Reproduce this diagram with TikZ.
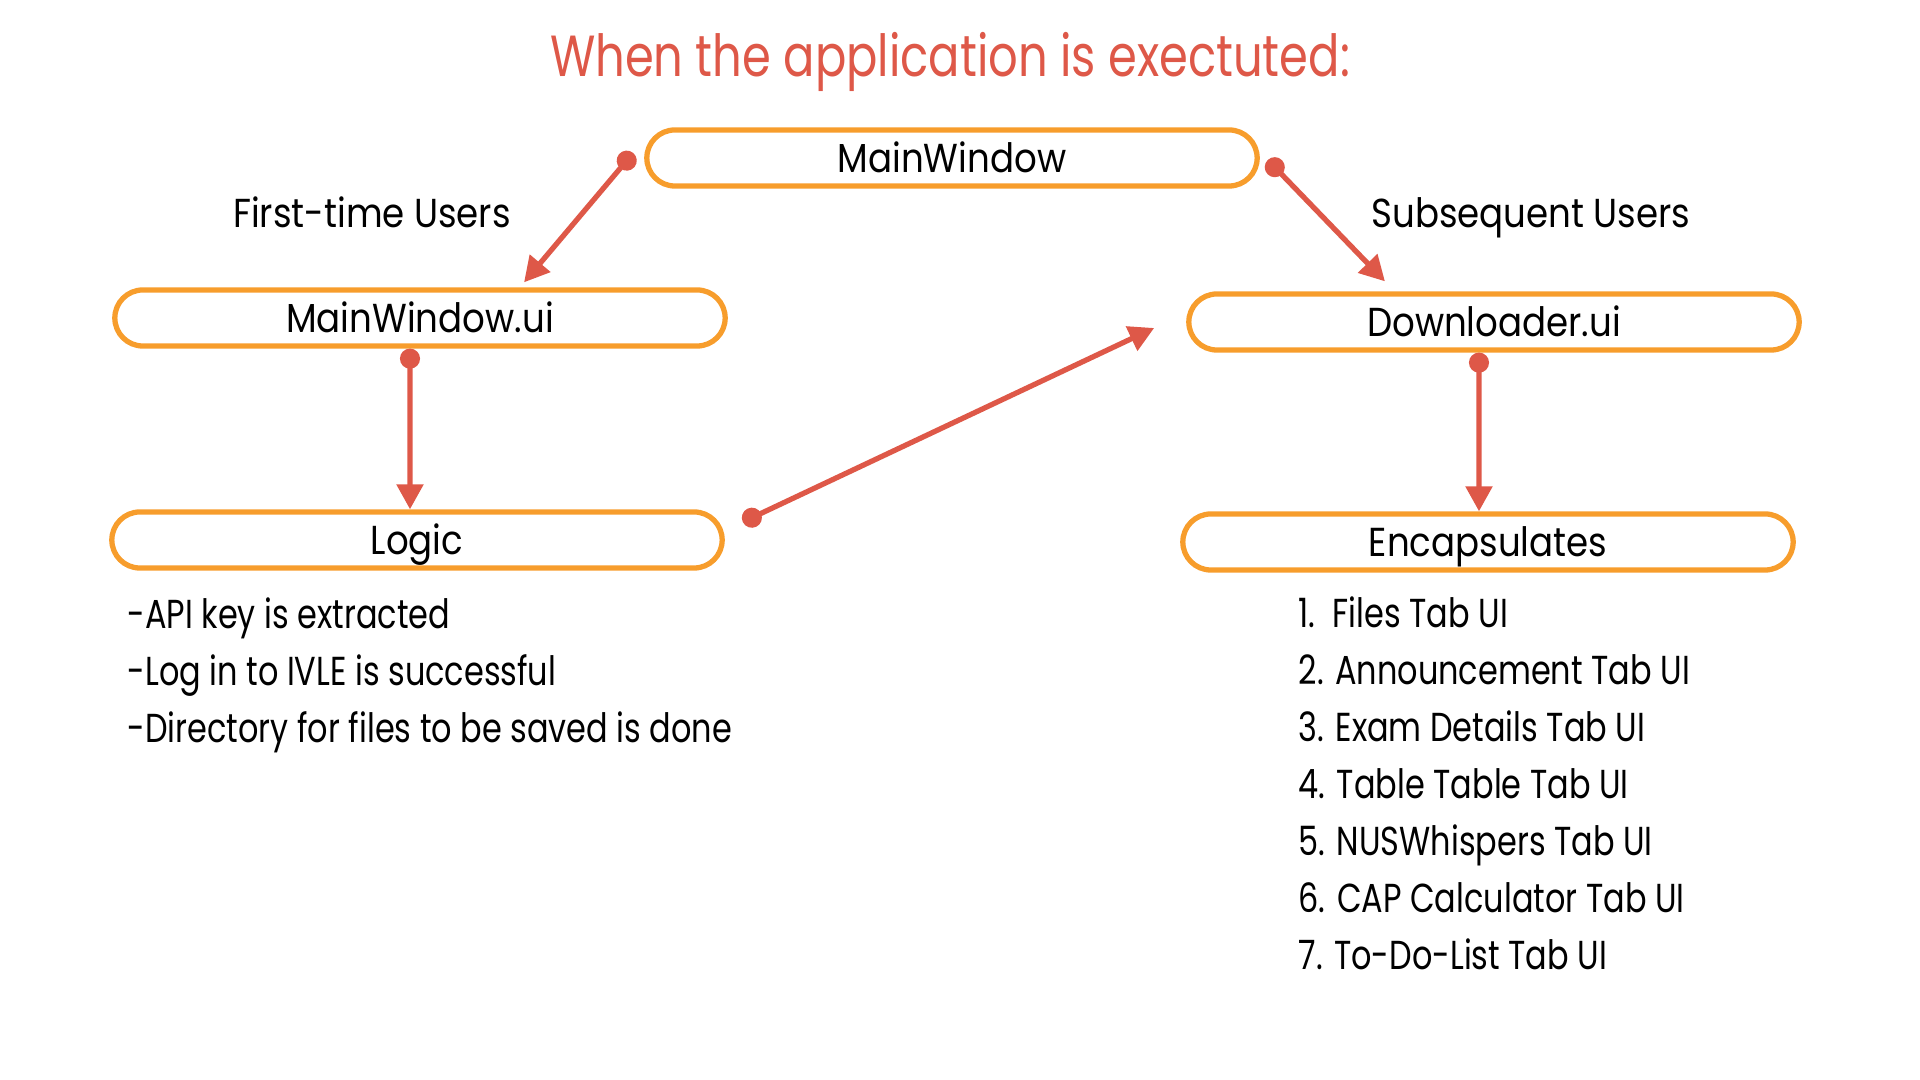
\documentclass[tikz,border=0pt]{standalone}
\usepackage{fontspec}
\setmainfont{Poppins}[FakeStretch=0.88]
\newfontfamily\listfont[FakeStretch=0.79]{Poppins}
\newfontfamily\headfont[FakeStretch=0.8]{Poppins}
\usetikzlibrary{arrows.meta,positioning}
\definecolor{boxline}{RGB}{247,157,44}
\definecolor{flow}{RGB}{222,88,72}

\begin{document}
\begin{tikzpicture}[x=0.01cm,y=-0.01cm,
  stage/.style={draw=boxline,line width=1.5pt,rounded corners=0.28cm,
    minimum width=6.1cm,minimum height=0.56cm,inner sep=0pt,
    text height=8pt,text depth=0pt,font=\fontsize{11.5}{13}\selectfont},
  link/.style={{Circle[length=0.2cm]}-{Triangle[length=0.25cm,width=0.26cm]},
    line width=1.5pt,flow},
  usertag/.style={text height=8pt,text depth=0pt,font=\fontsize{11.5}{13}\selectfont},
  steps/.style={align=left,anchor=north west,inner sep=0pt,
    font=\listfont\fontsize{11.5}{16.2}\selectfont},
]
  \useasboundingbox (0,0) rectangle (1920,1080);
  \node[text=flow,font=\headfont\fontsize{16.5}{20}\selectfont] (title) at (950,62) {When the application is exectuted:};

  \node[stage] (mw) at (952,158) {MainWindow};
  \node[stage] (mwui) at (420,318) {MainWindow.ui};
  \node[stage] (logic) at (417,540) {Logic};
  \node[stage] (dl) at (1494,322) {Downloader.ui};
  \node[stage] (enc) at (1488,542) {Encapsulates};

  \node[usertag] (first) at (372,213) {First-time Users};
  \node[usertag] (later) at (1531,213) {Subsequent Users};

  \node[steps] (keys) at (127,597) {-API key is extracted\\-Log in to IVLE is successful\\-Directory for files to be saved is done};
  \node[steps] (tabs) at (1298,596) {1.\ \ Files Tab UI\\2. Announcement Tab UI\\3. Exam Details Tab UI\\4. Table Table Tab UI\\5. NUSWhispers Tab UI\\6. CAP Calculator Tab UI\\7. To-Do-List Tab UI};

  \draw[link] ([xshift=-0.11cm,yshift=0.05cm]mw.west) -- ([xshift=1.04cm,yshift=0.05cm]mwui.north);
  \draw[link] ([xshift=0.08cm,yshift=-0.02cm]mw.east) -- ([xshift=-1.09cm,yshift=0.1cm]dl.north);
  \draw[link] ([xshift=-0.1cm]mwui.south) -- ([xshift=-0.07cm]logic.north);
  \draw[link] ([xshift=0.18cm,yshift=0.18cm]logic.east) -- ([xshift=-0.32cm,yshift=-0.06cm]dl.west);
  \draw[link] ([xshift=-0.15cm]dl.south) -- ([xshift=-0.09cm]enc.north);
\end{tikzpicture}
\end{document}
